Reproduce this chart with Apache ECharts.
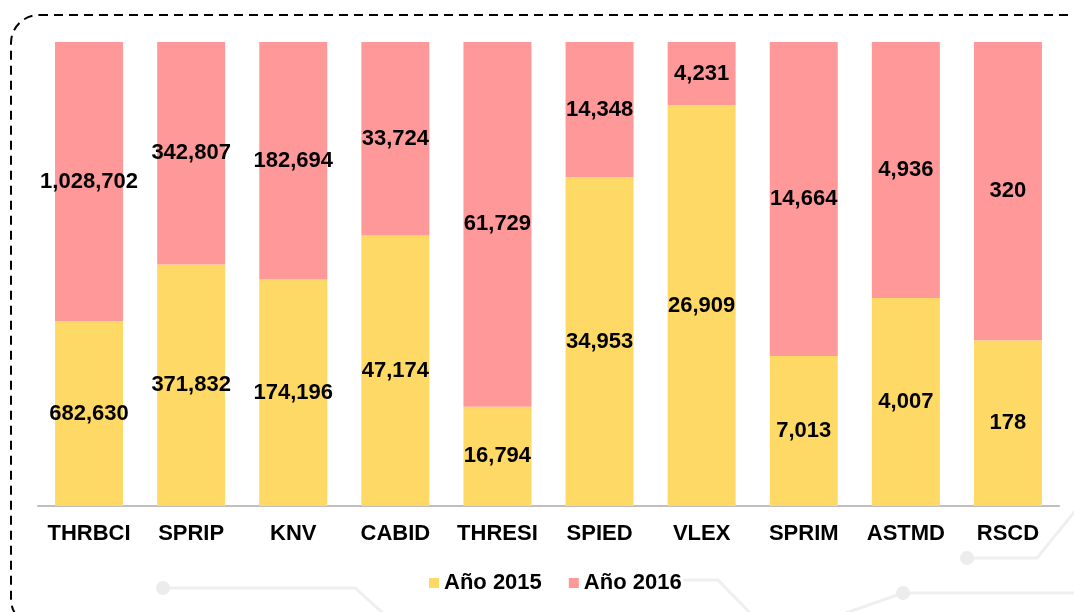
<!DOCTYPE html>
<html>
<head>
    <meta charset="utf-8">
    <title>Año 2015 / Año 2016</title>
    <script src="https://cdn.jsdelivr.net/npm/echarts@6/dist/echarts.min.js"></script>
    <style>
        html, body { margin: 0; padding: 0; background: #fff; }
        #main { width: 1074px; height: 612px; }
    </style>
</head>
<body>
    <div id="main"></div>
    <script type="text/javascript">
        var categories = ['THRBCI', 'SPRIP', 'KNV', 'CABID', 'THRESI', 'SPIED', 'VLEX', 'SPRIM', 'ASTMD', 'RSCD'];
        var values2015 = [682630, 371832, 174196, 47174, 16794, 34953, 26909, 7013, 4007, 178];
        var values2016 = [1028702, 342807, 182694, 33724, 61729, 14348, 4231, 14664, 4936, 320];

        // 100% stacked: each bar's share of the column total
        var share2015 = [], share2016 = [];
        for (var i = 0; i < categories.length; i++) {
            var total = values2015[i] + values2016[i];
            share2015.push(values2015[i] / total);
            share2016.push(values2016[i] / total);
        }

        function fmt(raw) {
            return function (p) {
                return raw[p.dataIndex].toLocaleString('en-US');
            };
        }

        var labelStyle = {
            show: true,
            position: 'inside',
            color: '#000',
            fontFamily: 'Liberation Sans, Arial, sans-serif',
            fontWeight: 'bold',
            fontSize: 22
        };

        // faint circuit decoration in the background
        var traceStyle = { fill: 'none', stroke: '#efefef', lineWidth: 3 };
        var nodeStyle = { fill: '#ececec' };

        var myChart = echarts.init(document.getElementById('main'));

        var option = {
            animation: false,
            backgroundColor: '#fff',
            graphic: [
                { type: 'polyline', z: -2, silent: true, shape: { points: [[163, 588], [355, 588], [385, 615]] }, style: traceStyle },
                { type: 'circle', z: -2, silent: true, shape: { cx: 163, cy: 588, r: 7 }, style: nodeStyle },
                { type: 'polyline', z: -2, silent: true, shape: { points: [[683, 580], [718, 580], [752, 615]] }, style: traceStyle },
                { type: 'polyline', z: -2, silent: true, shape: { points: [[840, 615], [903, 593], [1080, 593]] }, style: traceStyle },
                { type: 'circle', z: -2, silent: true, shape: { cx: 903, cy: 593, r: 7 }, style: nodeStyle },
                { type: 'polyline', z: -2, silent: true, shape: { points: [[967, 558], [1037, 558], [1080, 505]] }, style: traceStyle },
                { type: 'circle', z: -2, silent: true, shape: { cx: 967, cy: 558, r: 7 }, style: nodeStyle },
                {
                    type: 'rect',
                    z: -1,
                    shape: { x: 11, y: 15, width: 1100, height: 612, r: 28 },
                    style: { fill: 'none', stroke: '#000', lineWidth: 2, lineDash: [9, 6] }
                }
            ],
            legend: {
                bottom: 13,
                left: 424,
                itemWidth: 10,
                itemHeight: 10,
                itemGap: 27,
                icon: 'rect',
                textStyle: {
                    fontFamily: 'Liberation Sans, Arial, sans-serif',
                    fontWeight: 'bold',
                    fontSize: 22,
                    color: '#000'
                },
                data: ['Año 2015', 'Año 2016']
            },
            grid: {
                left: 38,
                right: 15,
                top: 42,
                bottom: 106
            },
            xAxis: {
                type: 'category',
                data: categories,
                axisLine: { lineStyle: { color: '#bfbfbf', width: 2 } },
                axisTick: { show: false },
                axisLabel: {
                    interval: 0,
                    margin: 17,
                    color: '#000',
                    fontFamily: 'Liberation Sans, Arial, sans-serif',
                    fontWeight: 'bold',
                    fontSize: 22
                }
            },
            yAxis: {
                type: 'value',
                min: 0,
                max: 1,
                show: false
            },
            series: [{
                name: 'Año 2015',
                type: 'bar',
                stack: 'total',
                barWidth: 68,
                itemStyle: { color: '#FFD966' },
                label: Object.assign({ formatter: fmt(values2015) }, labelStyle),
                data: share2015
            }, {
                name: 'Año 2016',
                type: 'bar',
                stack: 'total',
                barWidth: 68,
                itemStyle: { color: '#FF9999' },
                label: Object.assign({ formatter: fmt(values2016) }, labelStyle),
                data: share2016
            }]
        };

        myChart.setOption(option);
    </script>
</body>
</html>
